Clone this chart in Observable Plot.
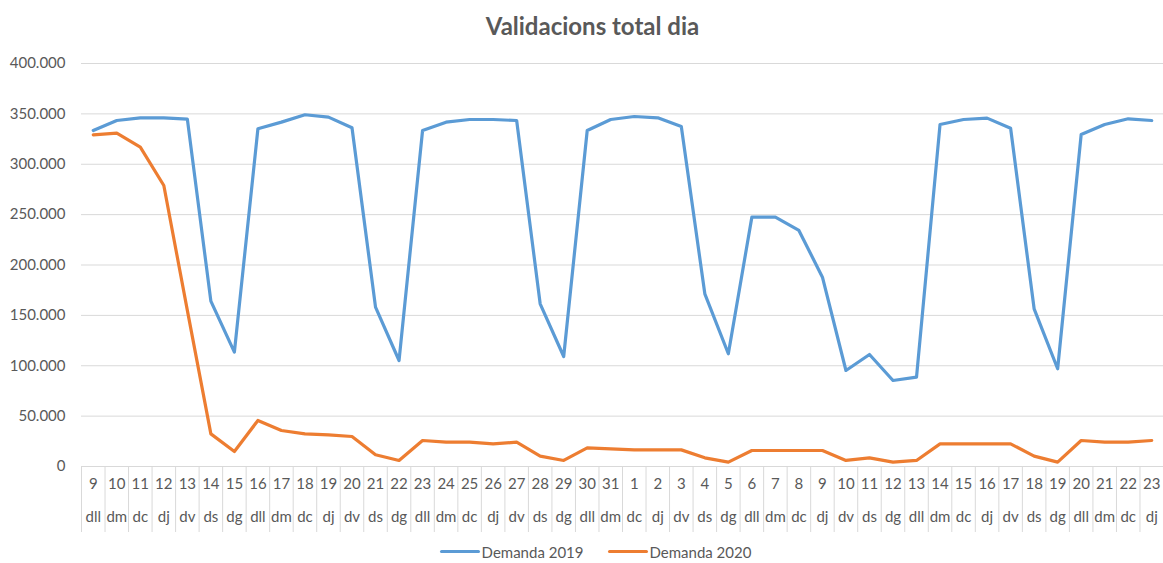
<!DOCTYPE html>
<html><head><meta charset="utf-8">
<script src="https://cdn.jsdelivr.net/npm/d3@7"></script>
<script src="https://cdn.jsdelivr.net/npm/@observablehq/plot@0.6"></script>
<style>
body{margin:0;background:#fff;font-family:Lato,"Open Sans",sans-serif;}
#title{height:45px;box-sizing:border-box;padding-top:13px;text-align:center;font-size:24px;font-weight:bold;color:#595959;padding-left:22px;line-height:26px}
#chart svg{display:block}
#legend{height:23px;display:flex;justify-content:center;align-items:center;font-size:15px;color:#595959;padding-left:28px;gap:24px}
#legend .item{display:flex;align-items:center}
#legend .sw{display:inline-block;width:40px;height:3px;border-radius:2px;margin-right:2px}
</style></head><body>
<div id="title">Validacions total dia</div>
<div id="chart"></div>
<div id="legend"></div>
<script>
const dayNumbers = [9,10,11,12,13,14,15,16,17,18,19,20,21,22,23,24,25,26,27,28,29,30,31,1,2,3,4,5,6,7,8,9,10,11,12,13,14,15,16,17,18,19,20,21,22,23];
const weekdays = ["dll","dm","dc","dj","dv","ds","dg","dll","dm","dc","dj","dv","ds","dg","dll","dm","dc","dj","dv","ds","dg","dll","dm","dc","dj","dv","ds","dg","dll","dm","dc","dj","dv","ds","dg","dll","dm","dc","dj","dv","ds","dg","dll","dm","dc","dj"];
const demanda2019 = [333500,343400,346100,346000,344800,164100,113500,335200,341800,349100,346800,336200,158200,105200,
  333500,341800,344400,344400,343400,161500,109200,333500,344400,347400,346100,337500,171400,111900,247500,247500,
  234300,187900,95300,111200,85400,88700,339500,344400,345800,335800,156500,97000,329500,339500,345100,343400];
const demanda2020 = [329200,330900,317000,278900,155000,32400,14900,45700,35700,32400,31400,29800,11600,6000,
  25800,24100,24100,22500,24100,10300,6000,18500,17500,16500,16500,16500,8600,4300,15900,15900,
  15900,15900,6000,8600,4300,6000,22500,22500,22500,22500,10300,4300,25800,24100,24100,25800];
const yTicks = [0,50000,100000,150000,200000,250000,300000,350000,400000];
const seriesNames = ["Demanda 2019","Demanda 2020"];
const seriesColors = ["#5b9bd5","#ed7d31"];

const rows = [];
[demanda2019, demanda2020].forEach((arr, s) => arr.forEach((v, i) => rows.push({i, value: v, series: seriesNames[s]})));

const W = 1163, H = 495, mT = 18, mB = 74, mL = 81, mR = 0;
const fmt = d3.formatLocale({decimal: ",", thousands: ".", grouping: [3], currency: ["", "€"]}).format(",");
const font = 'Lato,"Open Sans",sans-serif';

const plot = Plot.plot({
  width: W, height: H, marginTop: mT, marginBottom: mB, marginLeft: mL, marginRight: mR,
  style: {fontFamily: font, fontSize: "13px", color: "#595959", background: "white", overflow: "visible"},
  x: {type: "linear", domain: [-0.5, dayNumbers.length - 0.5], axis: null},
  y: {domain: [0, 400000], label: null},
  color: {domain: seriesNames, range: seriesColors},
  marks: [
    Plot.ruleY(yTicks, {stroke: "#d9d9d9", strokeWidth: 1}),
    Plot.axisY(yTicks, {tickSize: 0, tickPadding: 16, tickFormat: fmt, fontSize: 15, fill: "#595959", label: null}),
    Plot.ruleX(d3.range(dayNumbers.length + 1), {x: d => d - 0.5, stroke: "#d9d9d9", insetTop: H - mT - mB, insetBottom: -66}),
    Plot.text(dayNumbers, {x: (d, i) => i, frameAnchor: "bottom", dy: 22, text: d => String(d), fontSize: 15, fill: "#595959"}),
    Plot.text(weekdays, {x: (d, i) => i, frameAnchor: "bottom", dy: 55, text: d => d, fontSize: 15, fill: "#595959"}),
    Plot.line(rows, {x: "i", y: "value", z: "series", stroke: "series", strokeWidth: 3.2, strokeLinejoin: "round", strokeLinecap: "round"})
  ]
});
document.getElementById("chart").appendChild(plot);

const legend = document.getElementById("legend");
seriesNames.forEach((name, k) => {
  const item = document.createElement("span");
  item.className = "item";
  const sw = document.createElement("span");
  sw.className = "sw";
  sw.style.background = seriesColors[k];
  item.appendChild(sw);
  item.appendChild(document.createTextNode(name));
  legend.appendChild(item);
});
</script>
</body></html>
